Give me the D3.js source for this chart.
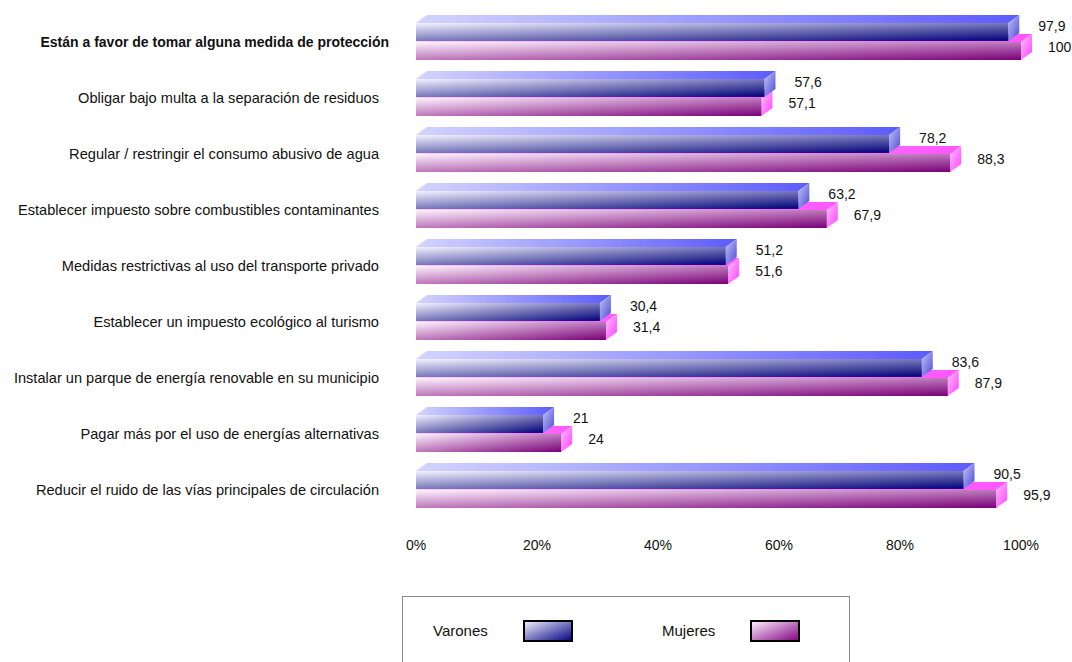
<!DOCTYPE html>
<html lang="es">
<head>
<meta charset="UTF-8">
<title>Medidas de protección</title>
<style>
  body { margin: 0; background: #fff; font-family: "Liberation Sans", Arial, sans-serif; }
  .cat { font-size: 14.6px; fill: #111; }
  .leg { font-size: 15px; fill: #111; }
  .val { font-size: 14px; fill: #111; }
  .tick { font-size: 14px; fill: #111; }
</style>
</head>
<body>
<svg width="1072" height="662"></svg>
<script src="https://d3js.org/d3.v7.min.js"></script>
<script>
// data
const categories = [
  "Están a favor de tomar alguna medida de protección",
  "Obligar bajo multa a la separación de residuos",
  "Regular / restringir el consumo abusivo de agua",
  "Establecer impuesto sobre combustibles contaminantes",
  "Medidas restrictivas al uso del transporte privado",
  "Establecer un impuesto ecológico al turismo",
  "Instalar un parque de energía renovable en su municipio",
  "Pagar más por el uso de energías alternativas",
  "Reducir el ruido de las vías principales de circulación"
];
const varones = [97.9, 57.6, 78.2, 63.2, 51.2, 30.4, 83.6, 21, 90.5];
const mujeres = [100, 57.1, 88.3, 67.9, 51.6, 31.4, 87.9, 24, 95.9];
const tickValues = [0, 20, 40, 60, 80, 100];
const seriesNames = ["Varones", "Mujeres"];

const svg = d3.select("svg");
const defs = svg.append("defs");

function grad(id, c0, c1, x2, y2) {
  const g = defs.append("linearGradient").attr("id", id)
    .attr("x1", 0).attr("y1", 0).attr("x2", x2).attr("y2", y2);
  g.append("stop").attr("offset", "0%").attr("stop-color", c0);
  g.append("stop").attr("offset", "100%").attr("stop-color", c1);
}
grad("vFront", "#f2f2ff", "#000078", 1, 1);
grad("vTop", "#d4d4ff", "#5c5cff", 1, 0);
grad("vSide", "#c4c4f4", "#4a4ad8", 1, 1);
grad("mFront", "#fff2ff", "#7a0078", 1, 1);
grad("mTop", "#ffc8ff", "#ff55ff", 1, 0);
grad("mSide", "#ffc0ff", "#ff40ff", 1, 1);

const x = d3.scaleLinear().domain([0, 100]).range([416, 1021]);
const y = d3.scaleBand().domain(categories).range([14, 518]).padding(0);

const dx = 11, dy = 8, h = 18;

const rows = categories.map((c, i) => ({ cat: c, v: varones[i], m: mujeres[i], i }));

function drawBar(g, val, y0, pre) {
  const x0 = x(0), x1 = x(val);
  g.append("path")
    .attr("d", `M${x0},${y0}L${x0 + dx},${y0 - dy}L${x1 + dx},${y0 - dy}L${x1},${y0}Z`)
    .attr("fill", `url(#${pre}Top)`);
  g.append("path")
    .attr("d", `M${x1},${y0}L${x1 + dx},${y0 - dy}L${x1 + dx},${y0 + h - dy}L${x1},${y0 + h}Z`)
    .attr("fill", `url(#${pre}Side)`);
  g.append("rect")
    .attr("x", x0).attr("y", y0).attr("width", x1 - x0).attr("height", h)
    .attr("fill", `url(#${pre}Front)`);
}

const row = svg.selectAll(".row").data(rows).enter().append("g").attr("class", "row");

row.each(function(d) {
  const g = d3.select(this);
  const c = y(d.cat) + y.bandwidth() / 2;
  // mujeres behind, varones in front
  drawBar(g, d.m, c, "m");
  drawBar(g, d.v, c - 19, "v");

  g.append("text").attr("class", "val")
    .attr("x", x(d.v) + 30).attr("y", c - 16).attr("dy", "0.35em")
    .text(String(d.v).replace(".", ","));
  g.append("text").attr("class", "val")
    .attr("x", x(d.m) + 27).attr("y", c + 5).attr("dy", "0.35em")
    .text(String(d.m).replace(".", ","));

  g.append("text").attr("class", "cat")
    .attr("x", d.i === 0 ? 389 : 379).attr("y", c).attr("dy", "0.35em")
    .attr("text-anchor", "end")
    .style("font-weight", d.i === 0 ? "bold" : "normal")
    .style("font-size", d.i === 0 ? "14px" : null)
    .text(d.cat);
});

// x axis labels
svg.selectAll(".tick").data(tickValues).enter().append("text")
  .attr("class", "tick")
  .attr("x", d => x(d)).attr("y", 545).attr("dy", "0.35em")
  .attr("text-anchor", "middle")
  .text(d => d + "%");

// legend
svg.append("rect").attr("x", 402.5).attr("y", 596.5).attr("width", 447).attr("height", 80)
  .attr("fill", "none").attr("stroke", "#8a8a8a");

grad("vLeg", "#f4f4ff", "#000080", 1, 1);
grad("mLeg", "#fff4ff", "#800080", 1, 1);

const legendX = [433, 662];
const swatchX = [524, 751];
seriesNames.forEach((name, i) => {
  svg.append("text").attr("class", "leg")
    .attr("x", legendX[i]).attr("y", 631).attr("dy", "0.35em").text(name);
  svg.append("rect").attr("x", swatchX[i]).attr("y", 621).attr("width", 48).attr("height", 20)
    .attr("fill", i === 0 ? "url(#vLeg)" : "url(#mLeg)")
    .attr("stroke", "#000").attr("stroke-width", 2);
});
</script>
</body>
</html>
